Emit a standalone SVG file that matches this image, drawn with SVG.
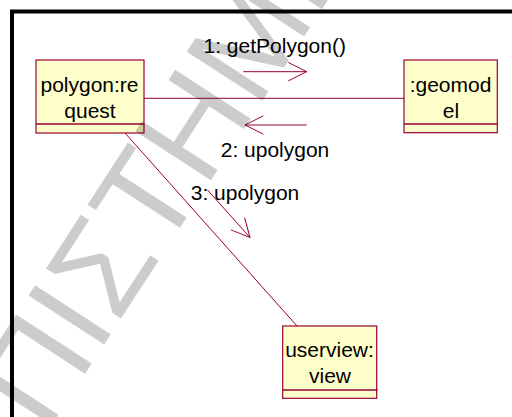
<svg xmlns="http://www.w3.org/2000/svg" width="512" height="417" viewBox="0 0 512 417">
  <style>
    .box rect { fill: #ffffcc; stroke: #990033; stroke-width: 1.2; }
    .box line { stroke: #990033; stroke-width: 1.5; }
    .lbl { font-family: "Liberation Sans", Arial, sans-serif; font-size: 21px; fill: #000; text-anchor: middle; }
    .link { stroke: #990033; stroke-width: 1; fill: none; }
    .wm { font-family: "Liberation Sans", Arial, sans-serif; font-size: 131px; fill: #000; fill-opacity: 0.2; }
  </style>
  <defs>
    <!-- open V arrowhead for message arrows -->
    <marker id="open" markerUnits="userSpaceOnUse" viewBox="-20 -11 22 22" refX="0" refY="0" markerWidth="22" markerHeight="22" orient="auto" overflow="visible">
      <path d="M-18.4,-9.2 L0,0 L-18.4,9.2" fill="none" stroke="#990033" stroke-width="1"/>
    </marker>
  </defs>

  <rect width="512" height="417" fill="#fff"/>
  <!-- outer frame (top and left edges) -->
  <path d="M12,417 V11.5 H512" fill="none" stroke="#000" stroke-width="4"/>

  <g id="connectors">
    <line class="link" x1="144" y1="98.3" x2="404" y2="98.3"/>
    <line class="link" x1="125" y1="133" x2="297" y2="326"/>
    <line class="link" x1="243.3" y1="71.7" x2="306.7" y2="71.7" marker-end="url(#open)"/>
    <line class="link" x1="306.7" y1="125" x2="245" y2="125" marker-end="url(#open)"/>
    <line class="link" x1="207.4" y1="189.8" x2="250" y2="237.5" marker-end="url(#open)"/>
    <text class="lbl" x="274.7" y="53.3">1: getPolygon()</text>
    <text class="lbl" x="275" y="156.7">2: upolygon</text>
    <text class="lbl" x="245" y="200">3: upolygon</text>
  </g>

  <g id="polygon-request" class="box">
    <rect x="36" y="60" width="108" height="73"/>
    <line x1="36" y1="124" x2="144" y2="124"/>
    <text class="lbl" x="89.5" y="91.7">polygon:re</text>
    <text class="lbl" x="90" y="118">quest</text>
  </g>

  <g id="geomodel" class="box">
    <rect x="404" y="60" width="93.3" height="72.7"/>
    <line x1="404" y1="124" x2="497.3" y2="124"/>
    <text class="lbl" x="450.5" y="91.7">:geomod</text>
    <text class="lbl" x="451" y="118">el</text>
  </g>

  <g id="userview-view" class="box">
    <rect x="282.7" y="326" width="94" height="72.3"/>
    <line x1="282.7" y1="390" x2="377.7" y2="390"/>
    <text class="lbl" x="329.5" y="357.3">userview:</text>
    <text class="lbl" x="330" y="383.3">view</text>
  </g>

  <!-- translucent diagonal watermark -->
  <text class="wm" transform="rotate(-57)" x="-426.4" y="275">ΕΠΙΣΤΗΜΗ</text>
</svg>
